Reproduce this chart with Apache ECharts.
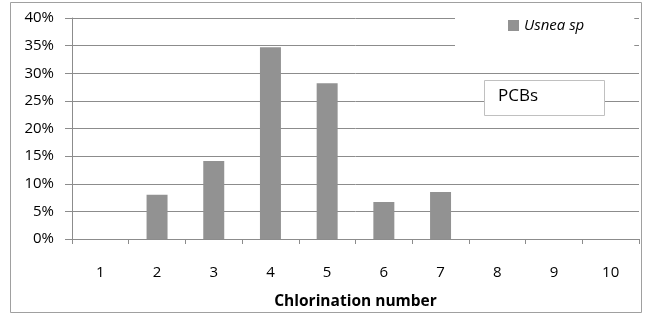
<!DOCTYPE html>
<html>
<head>
<meta charset="utf-8">
<script src="https://cdn.jsdelivr.net/npm/echarts@6/dist/echarts.min.js"></script>
<style>
html,body{margin:0;padding:0;background:#fff;}
#main{width:648px;height:315px;}
</style>
</head>
<body>
<div id="main"></div>
<script>
var categories = ['1','2','3','4','5','6','7','8','9','10'];
var usneaValues = [0, 0.080, 0.141, 0.347, 0.282, 0.067, 0.085, 0, 0, 0];
var seriesName = 'Usnea sp';
var xAxisTitle = 'Chlorination number';
var boxLabel = 'PCBs';

var FONT = 'Open Sans';
var chart = echarts.init(document.getElementById('main'));
chart.setOption({
  animation: false,
  backgroundColor: '#fff',
  textStyle: {fontFamily: FONT},
  grid: {left: 72, right: 9, top: 18, bottom: 70, containLabel: false},
  legend: {
    data: [seriesName],
    left: 455, top: 0,
    padding: [18, 50, 18, 53],
    backgroundColor: '#fff',
    itemWidth: 11, itemHeight: 11, itemGap: 5,
    icon: 'rect',
    textStyle: {fontFamily: FONT, fontSize: 15, fontStyle: 'italic', color: '#000'}
  },
  xAxis: {
    type: 'category',
    data: categories,
    boundaryGap: true,
    axisLine: {lineStyle: {color: '#8c8c8c', width: 1}},
    axisTick: {show: true, interval: 0, length: 5, lineStyle: {color: '#8c8c8c'}},
    axisLabel: {margin: 26, fontSize: 15, color: '#000', fontFamily: FONT, interval: 0},
    name: xAxisTitle,
    nameLocation: 'middle',
    nameGap: 55,
    nameTextStyle: {fontSize: 15.5, fontWeight: 'bold', color: '#000', fontFamily: FONT}
  },
  yAxis: {
    type: 'value',
    min: 0, max: 0.4, interval: 0.05,
    axisLine: {show: true, lineStyle: {color: '#8c8c8c', width: 1}},
    axisTick: {show: true, length: 7, lineStyle: {color: '#8c8c8c'}},
    axisLabel: {
      margin: 18, fontSize: 15, color: '#000', fontFamily: FONT,
      formatter: function (v) { return Math.round(v * 100) + '%'; }
    },
    splitLine: {show: true, lineStyle: {color: '#8c8c8c', width: 1}}
  },
  series: [{
    name: seriesName,
    type: 'bar',
    data: usneaValues,
    barWidth: '37%',
    itemStyle: {color: '#929292'}
  }],
  graphic: [
    {
      type: 'rect', z: 100,
      shape: {x: 10.5, y: 2.5, width: 631, height: 310},
      style: {fill: 'none', stroke: '#a0a0a0', lineWidth: 1}
    },
    {
      type: 'rect', z: 100,
      shape: {x: 484.5, y: 80.5, width: 120, height: 35},
      style: {fill: '#fff', stroke: '#c0c0c0', lineWidth: 1}
    },
    {
      type: 'text', z: 101,
      left: 498, top: 88,
      style: {text: boxLabel, fontSize: 17, fontFamily: FONT, fill: '#000'}
    }
  ]
});
</script>
</body>
</html>
